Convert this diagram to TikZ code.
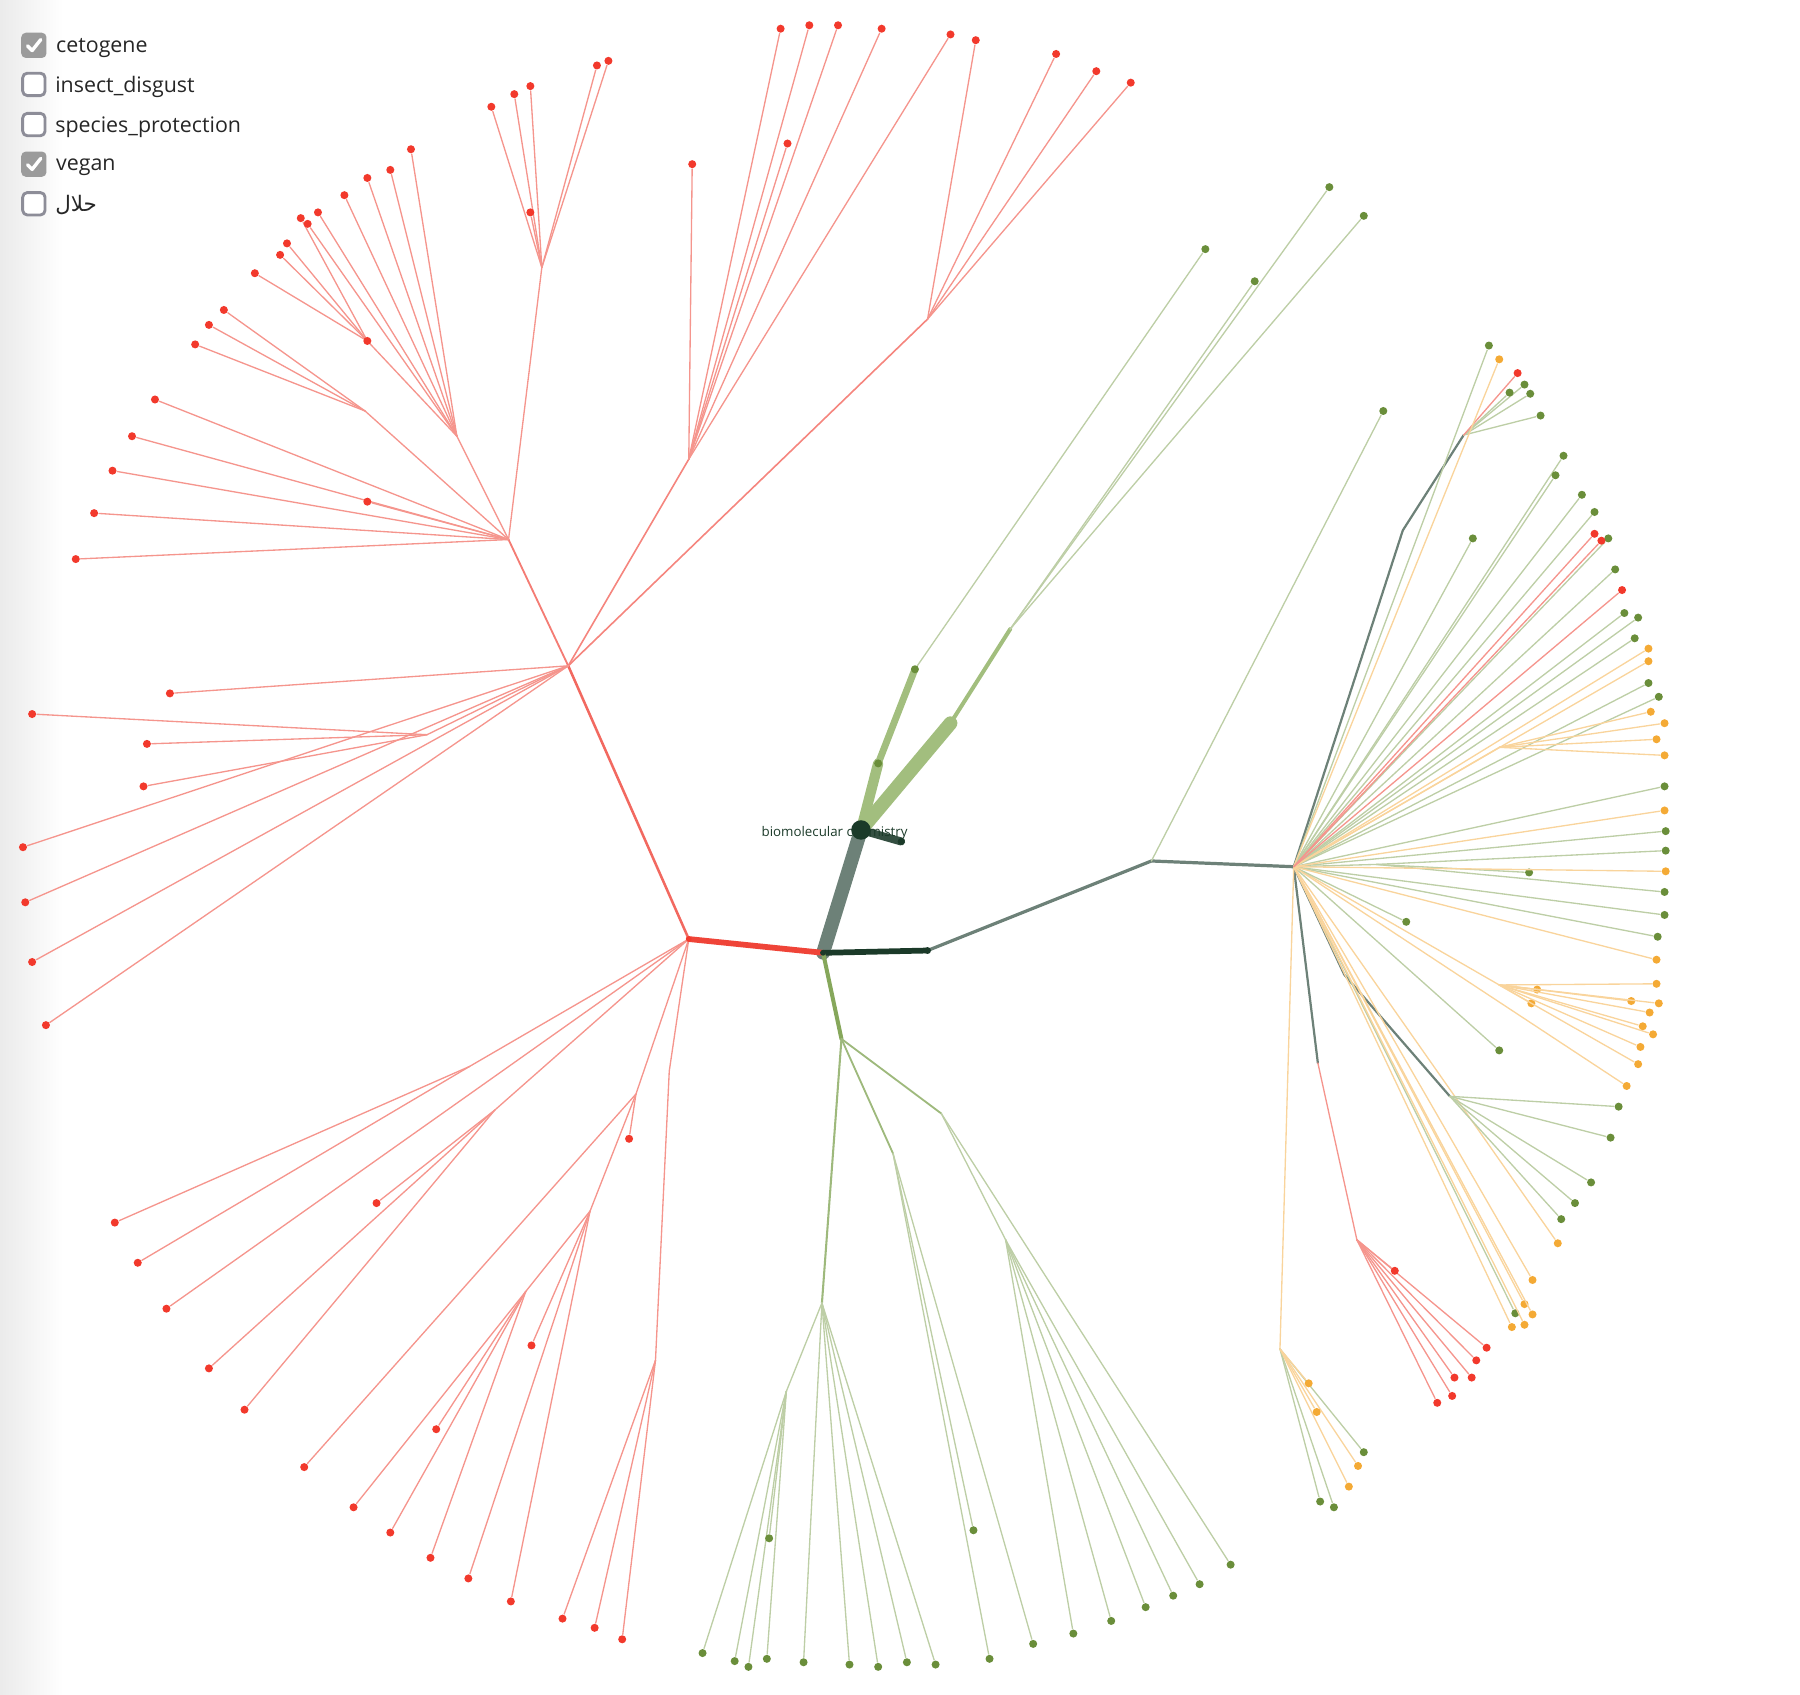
\documentclass[tikz,border=0pt]{standalone}
\usepackage{fontspec}
\setmainfont{Open Sans}
\newfontfamily\arabicfont[Script=Arabic]{DejaVu Sans}
\TeXXeTstate=1
\usetikzlibrary{positioning}

\definecolor{redDot}{HTML}{F2392C}
\definecolor{redLine}{HTML}{F5958D}
\definecolor{redTrunk}{HTML}{EF4438}
\definecolor{greenDot}{HTML}{6A8E3A}
\definecolor{greenLine}{HTML}{BDCEA6}
\definecolor{greenTrunk}{HTML}{86A75B}
\definecolor{orangeDot}{HTML}{F4AA35}
\definecolor{orangeLine}{HTML}{F9D49C}
\definecolor{darkNode}{HTML}{1B3A29}
\definecolor{greyEdge}{HTML}{6D8178}
\definecolor{thickGreen}{HTML}{A2BE7E}
\definecolor{boxGrey}{HTML}{9B9B9B}
\definecolor{boxLine}{HTML}{8D8D98}

\tikzset{
  rdot/.style={circle,fill=redDot,inner sep=0pt,minimum size=0.7mm},
  gdot/.style={circle,fill=greenDot,inner sep=0pt,minimum size=0.7mm},
  odot/.style={circle,fill=orangeDot,inner sep=0pt,minimum size=0.7mm},
  kdot/.style={circle,fill=darkNode,inner sep=0pt,minimum size=0.6mm},
  rline/.style={draw=redLine,line width=0.33pt},
  gline/.style={draw=greenLine,line width=0.33pt},
  oline/.style={draw=orangeLine,line width=0.33pt},
  kline/.style={draw=greyEdge,line width=0.55pt},
  chkon/.style={rectangle,rounded corners=0.4mm,fill=boxGrey,minimum size=2.2mm,inner sep=0pt},
  chkoff/.style={rectangle,rounded corners=0.4mm,draw=boxLine,line width=0.25mm,fill=white,minimum size=1.95mm,inner sep=0pt},
  tick/.style={white,line width=0.3mm},
  legtext/.style={inner sep=0pt,font=\fontsize{5.3pt}{6pt}\selectfont,text=black!85}
}

% hub, name prefix, dot style, line style, leaf list
\newcommand\fan[5]{%
  \foreach \px/\py [count=\k] in {#5} {
    \node[#3] (#2\k) at (\px,\py) {};
    \draw[#4] (#1) -- (#2\k);
  }}

\begin{document}
\begin{tikzpicture}[x=0.1mm,y=-0.1mm,line cap=round,line join=round]
\useasboundingbox (0,0) rectangle (1568,1476);
\shade[left color=black!8,right color=white] (0,0) rectangle (55,1476);

% junctions
\coordinate (root) at (750,723);
\coordinate (c) at (717,830);
\coordinate (gy) at (785,733);
\coordinate (g1) at (765,665);
\coordinate (g2) at (797,583);
\coordinate (g3) at (828,630);
\coordinate (g4) at (880,548);
\coordinate (r1) at (600,818);
\coordinate (r2) at (495,580);
\coordinate (r3) at (443,470);
\coordinate (r4) at (600,400);
\coordinate (r5) at (808,278);
\coordinate (s1) at (398,380);
\coordinate (s2) at (318,358);
\coordinate (s3) at (320,297);
\coordinate (s4) at (472,233);
\coordinate (s5) at (372,640);
\coordinate (s6) at (409,929);
\coordinate (s7) at (431,967);
\coordinate (s8) at (554,953);
\coordinate (s9) at (514,1055);
\coordinate (s10) at (458,1125);
\coordinate (s11) at (583,933);
\coordinate (s12) at (571,1185);
\coordinate (d1) at (808,828);
\coordinate (d2) at (1003,750);
\coordinate (h) at (1127,755);
\coordinate (hb) at (1199,753);
\coordinate (hd1) at (1222,462);
\coordinate (hd2) at (1275,379);
\coordinate (hd3) at (1171,849);
\coordinate (hd4) at (1263,955);
\coordinate (hd5) at (1148,926);
\coordinate (ho1) at (1306,651);
\coordinate (ho2) at (1306,858);
\coordinate (rh) at (1182,1080);
\coordinate (bo) at (1115,1175);
\coordinate (ga) at (733,905);
\coordinate (gb) at (716,1135);
\coordinate (gc) at (685,1212);
\coordinate (gd) at (778,1005);
\coordinate (ge) at (820,970);
\coordinate (gf) at (876,1080);

% trunk
\draw[line width=1.2mm,greyEdge] (root) -- (c);
\draw[line width=0.7mm,darkNode!70!greyEdge] (root) -- (gy);
\draw[line width=1.2mm,thickGreen] (root) -- (g3);
\draw[line width=0.9mm,thickGreen] (root) -- (g1);
\draw[line width=0.6mm,thickGreen] (g1) -- (g2);
\draw[line width=0.35mm,thickGreen] (g3) -- (g4);
\draw[line width=0.5mm,redTrunk] (c) -- (r1);
\draw[line width=0.5mm,darkNode] (c) -- (d1);
\draw[line width=0.35mm,greenTrunk] (c) -- (ga);
\draw[line width=0.28mm,greyEdge] (d1) -- (d2) -- (h);
\draw[line width=0.22mm,redTrunk!80!white] (r1) -- (r2);
\draw[line width=0.16mm,redTrunk!70!white] (r2) -- (r3);
\draw[line width=0.14mm,redTrunk!65!white] (r2) -- (r4);
\draw[line width=0.14mm,redTrunk!65!white] (r2) -- (r5);
\draw[line width=0.18mm,greenTrunk!80!white] (ga) -- (gb);
\draw[line width=0.16mm,greenTrunk!80!white] (ga) -- (gd);
\draw[line width=0.16mm,greenTrunk!80!white] (ga) -- (ge);

% red subtree
\draw[rline] (s3) -- (s1) -- (r3);
\draw[rline] (s2) -- (r3);
\draw[rline] (s4) -- (r3);
\draw[rline] (s5) -- (r2);
\draw[rline] (r1) -- (s6);
\draw[rline] (r1) -- (s7);
\draw[rline] (r1) -- (s8) -- (s9) -- (s10);
\draw[rline] (r1) -- (s11) -- (s12);
\fan{s3}{sa}{rdot}{rline}{222/238, 244/222, 250/212, 262/190}
\fan{s1}{sb}{rdot}{rline}{358/130, 340/148, 320/155, 300/170, 277/185, 268/195}
\fan{s2}{sc}{rdot}{rline}{195/270, 182/283, 170/300}
\fan{r3}{sd}{rdot}{rline}{135/348, 115/380, 98/410, 82/447, 66/487, 320/437}
\fan{s4}{se}{rdot}{rline}{462/75, 448/82, 428/93, 520/57, 530/53, 462/185}
\fan{r4}{sf}{rdot}{rline}{680/25, 705/22, 730/22, 768/25, 828/30, 686/125, 603/143}
\fan{r5}{sg}{rdot}{rline}{850/35, 920/47, 955/62, 985/72}
\fan{s5}{sh}{rdot}{rline}{28/622, 128/648, 125/685}
\fan{r2}{si}{rdot}{rline}{148/604, 20/738, 22/786, 28/838, 40/893}
\fan{s6}{sj}{rdot}{rline}{100/1065, 120/1100}
\fan{s7}{sk}{rdot}{rline}{182/1192, 213/1228, 328/1048}
\fan{r1}{sl}{rdot}{rline}{145/1140}
\fan{s8}{sm}{rdot}{rline}{265/1278, 548/992}
\fan{s9}{sn}{rdot}{rline}{463/1172, 408/1375, 445/1395}
\fan{s10}{so}{rdot}{rline}{308/1313, 340/1335, 380/1245, 375/1357}
\fan{s12}{sp}{rdot}{rline}{490/1410, 518/1418, 542/1428}

% green subtree, lower
\draw[gline] (gb) -- (gc);
\draw[gline] (ge) -- (gf);
\fan{gb}{ta}{gdot}{gline}{700/1448, 740/1450, 765/1452, 790/1448, 815/1450}
\fan{gc}{tb}{gdot}{gline}{612/1440, 640/1447, 652/1452, 668/1445, 670/1340}
\fan{gd}{tc}{gdot}{gline}{848/1333, 862/1445, 900/1432}
\fan{gf}{td}{gdot}{gline}{935/1423, 968/1412, 998/1400, 1022/1390, 1045/1380}
\fan{ge}{te}{gdot}{gline}{1072/1363}

% green subtree, upper
\fan{g2}{ua}{gdot}{gline}{1050/217}
\fan{g4}{ub}{gdot}{gline}{1093/245, 1158/163, 1188/188}
\fan{d2}{uc}{gdot}{gline}{1205/358}

% right fan
\draw[kline] (h) -- (hd1) -- (hd2);
\draw[kline] (h) -- (hd3) -- (hd4);
\draw[kline] (h) -- (hd5);
\draw[rline] (hd5) -- (rh);
\draw[gline] (h) -- (hb);
\draw[oline] (h) -- (ho1);
\draw[oline] (h) -- (ho2);
\draw[oline] (h) -- (bo);
\fan{hd2}{va}{gdot}{gline}{1328/335, 1315/342, 1333/343, 1342/362}
\fan{hd2}{vb}{rdot}{rline}{1322/325}
\fan{h}{vc}{gdot}{gline}{1297/301, 1362/397, 1355/414, 1378/431, 1389/446, 1401/469, 1407/496, 1415/534, 1427/538, 1424/556, 1436/595, 1445/607, 1450/685, 1451/724, 1450/797, 1444/816, 1225/803, 1306/915, 1283/469, 1320/1144}
\fan{hb}{vd}{gdot}{gline}{1451/741, 1332/760, 1450/777}
\fan{h}{ve}{odot}{oline}{1306/313, 1436/565, 1436/576, 1450/706, 1451/759, 1443/836, 1417/946, 1357/1083, 1335/1115, 1328/1136, 1335/1145, 1317/1156, 1328/1154}
\fan{ho1}{vf}{odot}{oline}{1438/620, 1450/630, 1443/644, 1450/658}
\fan{ho2}{vg}{odot}{oline}{1443/857, 1339/862, 1334/874, 1421/872, 1445/874, 1437/882, 1431/894, 1440/901, 1429/912, 1427/927}
\fan{h}{vh}{rdot}{rline}{1389/465, 1395/471, 1413/514}
\fan{hd4}{vi}{gdot}{gline}{1410/964, 1403/991, 1386/1030, 1372/1048, 1360/1062}
\fan{rh}{vj}{rdot}{rline}{1295/1174, 1286/1185, 1282/1200, 1267/1200, 1265/1216, 1252/1222, 1215/1107}
\fan{bo}{vk}{gdot}{gline}{1188/1265, 1150/1308, 1162/1313}
\fan{bo}{vl}{odot}{oline}{1183/1277, 1175/1295, 1140/1205, 1147/1230}

% junction dots
\node[kdot,minimum size=0.5mm] (cdot) at (c) {};
\node[kdot] (d1dot) at (d1) {};
\node[kdot] (gydot) at (gy) {};
\node[rdot,minimum size=0.5mm] (r1dot) at (r1) {};
\node[rdot] (s3dot) at (s3) {};
\node[gdot] (g1dot) at (g1) {};
\node[gdot] (g2dot) at (g2) {};

% root
\node[font=\fontsize{3.3pt}{4pt}\selectfont,text=darkNode,inner sep=0pt] (rootlabel) at (727,726) {biomolecular chemistry};
\node[kdot,minimum size=1.7mm] (rootdot) at (root) {};

% legend
\node[chkon] (cb1) at (29.5,39.5) {};
\node[chkoff] (cb2) at (29.5,73.5) {};
\node[chkoff] (cb3) at (29.5,108.5) {};
\node[chkon] (cb4) at (29.5,143) {};
\node[chkoff] (cb5) at (29.5,177.5) {};
\draw[tick] ([shift={(-5.5,0.5)}]cb1.center) -- ([shift={(-1.5,4.5)}]cb1.center) -- ([shift={(6,-5)}]cb1.center);
\draw[tick] ([shift={(-5.5,0.5)}]cb4.center) -- ([shift={(-1.5,4.5)}]cb4.center) -- ([shift={(6,-5)}]cb4.center);
\node[legtext,right=0.7mm of cb1,yshift=-0.25mm] (lb1) {cetogene};
\node[legtext,right=0.7mm of cb2,yshift=-0.25mm] (lb2) {insect\_disgust};
\node[legtext,right=0.7mm of cb3,yshift=-0.25mm] (lb3) {species\_protection};
\node[legtext,right=0.7mm of cb4,yshift=-0.25mm] (lb4) {vegan};
\node[legtext,right=0.7mm of cb5,yshift=-0.1mm] (lb5) {\arabicfont\beginR حلال\endR};
\end{tikzpicture}
\end{document}
